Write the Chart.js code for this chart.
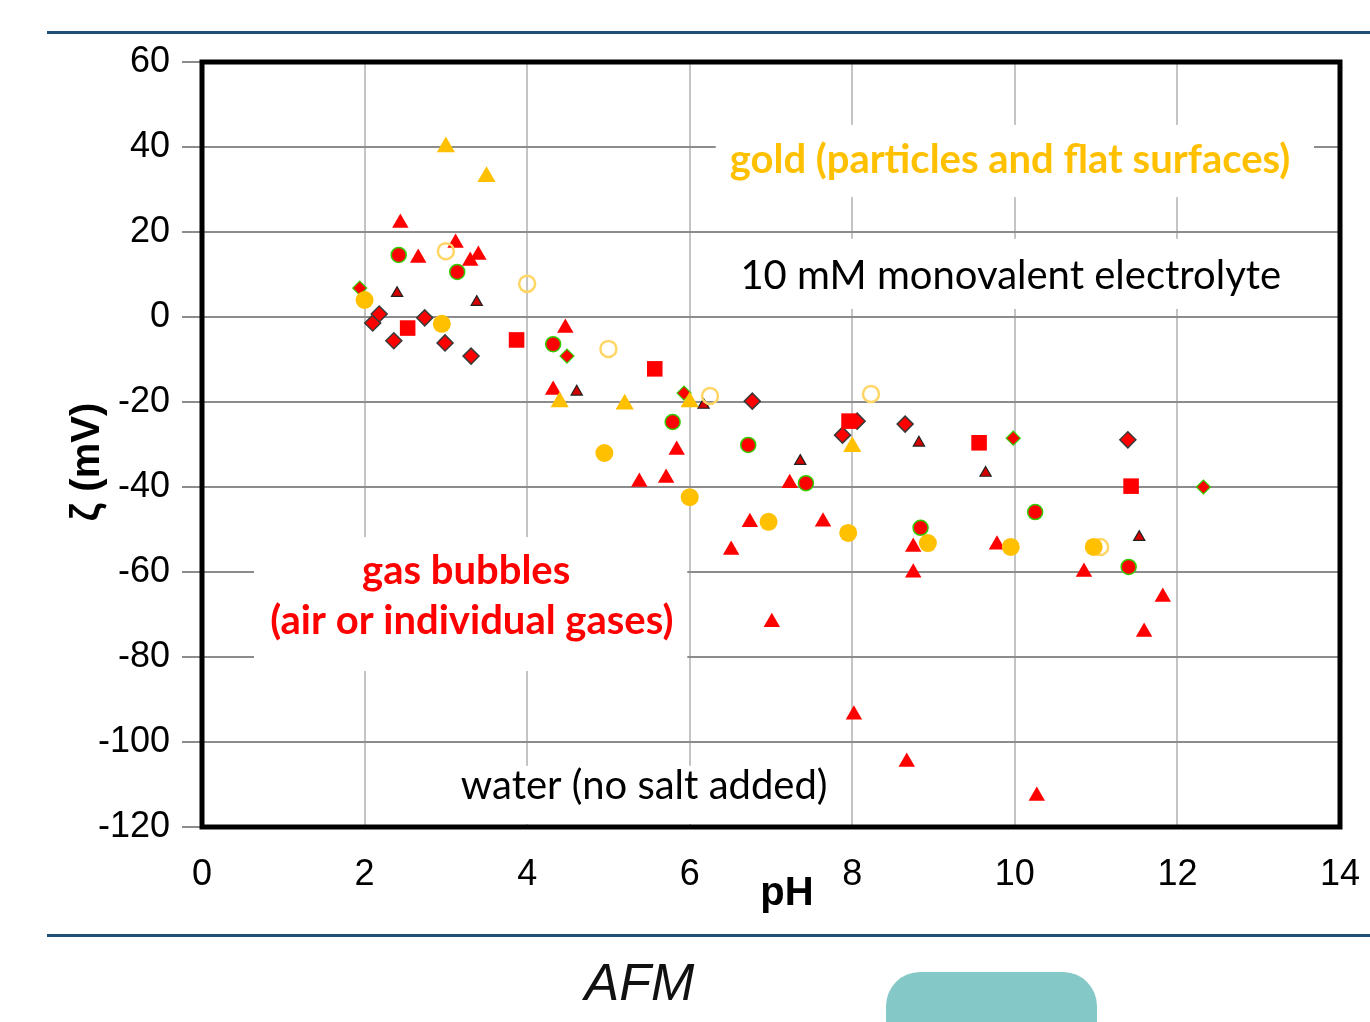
<!DOCTYPE html>
<html>
<head>
<meta charset="utf-8">
<script src="https://cdn.jsdelivr.net/npm/chart.js@4.4.1/dist/chart.umd.min.js"></script>
<style>
    html, body { margin: 0; padding: 0; background: #fff; }
    body { width: 1370px; height: 1022px; position: relative; overflow: hidden; }
    .rule { position: absolute; left: 47px; right: 0; height: 3px; background: #1f4e79; }
    #chart-box { position: absolute; left: 0; top: 0; width: 1370px; height: 930px; }
    .afm { position: absolute; left: 562px; top: 952px; width: 155px; text-align: center;
           font: italic 52px "Liberation Sans", Arial, sans-serif; color: #111; }
    .tab { position: absolute; left: 886px; top: 972px; width: 211px; height: 80px;
           background: #84c9c7; border-radius: 34px 34px 0 0; }
</style>
</head>
<body>
<div class="rule" style="top: 31px;"></div>
<div id="chart-box"><canvas id="zetaChart"></canvas></div>
<div class="rule" style="top: 934px;"></div>
<div class="afm">AFM</div>
<div class="tab"></div>

<script>
// Tick labels
const phTicks = [0, 2, 4, 6, 8, 10, 12, 14];
const zetaTicks = [60, 40, 20, 0, -20, -40, -60, -80, -100, -120];

// gold, filled triangles
const goldTriPh = [3.0, 3.5, 4.4, 5.2, 6.0, 8.0];
const goldTriZeta = [40, 33, -20, -20.5, -20, -30.5];

// gold, filled circles
const goldDotPh = [2.0, 2.95, 4.95, 6.0, 6.97, 7.95, 8.93, 9.95, 10.97];
const goldDotZeta = [4, -1.6, -32, -42.4, -48.2, -50.8, -53.2, -54.1, -54.1];

// gold, open circles
const goldRingPh = [3.0, 4.0, 5.0, 6.25, 8.23, 11.05];
const goldRingZeta = [15.5, 7.8, -7.5, -18.6, -18.1, -54.1];

// bubbles, red triangles
const bubbleTriPh = [2.44, 2.66, 3.12, 3.3, 3.4, 4.47, 4.32, 5.38, 5.71, 5.84, 6.51, 6.74,
                     7.01, 7.23, 7.64, 8.02, 8.67, 8.75, 8.75, 9.78, 10.27, 10.85, 11.59, 11.82];
const bubbleTriZeta = [22.1, 13.9, 17.4, 13.2, 14.6, -2.6, -17.2, -38.8, -37.9, -31.3, -54.8, -48.3,
                       -71.8, -39.1, -48.2, -93.6, -104.7, -54.1, -60.2, -53.6, -112.7, -60, -74.1, -65.9];

// bubbles, red squares
const bubbleSqPh = [2.53, 3.87, 5.57, 7.96, 9.56, 11.43];
const bubbleSqZeta = [-2.6, -5.4, -12.2, -24.5, -29.6, -39.8];

// bubbles, red circles (green edge)
const bubbleDotPh = [2.42, 3.14, 4.32, 5.79, 6.72, 7.43, 8.84, 10.25, 11.4];
const bubbleDotZeta = [14.6, 10.6, -6.4, -24.7, -30.1, -39.1, -49.6, -45.9, -58.8];

// bubbles, red diamonds (dark edge)
const bubbleDiaPh = [2.1, 2.18, 2.36, 2.74, 2.99, 3.31, 6.77, 7.88, 8.06, 8.65, 11.39];
const bubbleDiaZeta = [-1.4, 0.7, -5.6, -0.2, -6.1, -9.2, -19.8, -27.8, -24.5, -25.2, -28.9];

// bubbles, red diamonds (green edge)
const bubbleDiaGPh = [1.94, 4.49, 5.93, 9.98, 12.32];
const bubbleDiaGZeta = [6.8, -9.2, -17.9, -28.5, -40];

// bubbles, small dark triangles
const bubbleSmallPh = [2.4, 3.38, 4.61, 6.17, 7.36, 8.82, 9.64, 11.53];
const bubbleSmallZeta = [5.6, 3.5, -17.6, -20.7, -33.9, -29.6, -36.7, -51.8];

const pairs = (xs, ys) => xs.map((x, i) => ({ x: x, y: ys[i] }));

const RED = '#ff0000';
const GOLD = '#ffc000';
const GREEN = '#33cc00';

const TEXT_FONT = '"Lato", "Carlito", "Open Sans", sans-serif';
const AXIS_FONT = '"Liberation Sans", Arial, sans-serif';

// white boxes behind the notes: [phFrom, phTo, zetaTop, zetaBottom]
const noteBoxes = [
    [6.32, 13.68, 45.2, 28.2],
    [6.5, 13.5, 18.4, 1.9],
    [0.64, 5.97, -51.8, -83.3],
    [3.05, 7.85, -105.6, -119.3]
];

// notes: [text, ph, zeta, color, weight]
const notes = [
    ['gold (particles and flat surfaces)', 9.94, 36.9, GOLD, 'bold'],
    ['10 mM monovalent electrolyte', 9.95, 9.6, '#000', 'normal'],
    ['gas bubbles', 3.25, -59.8, RED, 'bold'],
    ['(air or individual gases)', 3.32, -71.5, RED, 'bold'],
    ['water (no salt added)', 5.44, -110.4, '#000', 'normal']
];

const notesPlugin = {
    id: 'notes',
    beforeDatasetsDraw(chart) {
        const { ctx, scales: { x, y } } = chart;
        ctx.save();
        ctx.fillStyle = '#fff';
        noteBoxes.forEach(b => {
            const x0 = x.getPixelForValue(b[0]), x1 = x.getPixelForValue(b[1]);
            const y0 = y.getPixelForValue(b[2]), y1 = y.getPixelForValue(b[3]);
            ctx.fillRect(x0, y0, x1 - x0, y1 - y0);
        });
        ctx.textAlign = 'center';
        ctx.textBaseline = 'middle';
        notes.forEach(n => {
            ctx.font = `${n[4]} 40px ${TEXT_FONT}`;
            ctx.fillStyle = n[3];
            ctx.fillText(n[0], x.getPixelForValue(n[1]), y.getPixelForValue(n[2]));
        });
        ctx.restore();
    },
    afterDraw(chart) {
        const { ctx, chartArea: a } = chart;
        ctx.save();
        // frame
        ctx.strokeStyle = '#000';
        ctx.lineWidth = 5;
        ctx.strokeRect(a.left, a.top, a.right - a.left, a.bottom - a.top);
        // axis titles
        ctx.fillStyle = '#000';
        ctx.font = `bold 40px ${AXIS_FONT}`;
        ctx.textAlign = 'center';
        ctx.textBaseline = 'middle';
        ctx.fillText('pH', 787, 894);
        ctx.translate(88, 462);
        ctx.rotate(-Math.PI / 2);
        ctx.fillText('ζ (mV)', 0, 0);
        ctx.restore();
    }
};

const series = (label, xs, ys, opts) => Object.assign({
    label: label,
    data: pairs(xs, ys),
    showLine: false
}, opts);

document.addEventListener('DOMContentLoaded', () => {
    const ctx = document.getElementById('zetaChart');

    new Chart(ctx, {
        type: 'scatter',
        data: {
            datasets: [
                series('gold triangles', goldTriPh, goldTriZeta,
                    { pointStyle: 'triangle', pointRadius: 10.5, backgroundColor: GOLD, borderColor: GOLD, pointBorderWidth: 0 }),
                series('gold circles', goldDotPh, goldDotZeta,
                    { pointStyle: 'circle', pointRadius: 9, backgroundColor: GOLD, borderColor: GOLD, pointBorderWidth: 0 }),
                series('gold open circles', goldRingPh, goldRingZeta,
                    { pointStyle: 'circle', pointRadius: 8, backgroundColor: 'rgba(255,255,255,0)', borderColor: '#ffd666', pointBorderWidth: 2.5 }),
                series('bubbles triangles', bubbleTriPh, bubbleTriZeta,
                    { pointStyle: 'triangle', pointRadius: 9.5, backgroundColor: RED, borderColor: RED, pointBorderWidth: 0 }),
                series('bubbles squares', bubbleSqPh, bubbleSqZeta,
                    { pointStyle: 'rect', pointRadius: 11, backgroundColor: RED, borderColor: RED, pointBorderWidth: 0 }),
                series('bubbles circles', bubbleDotPh, bubbleDotZeta,
                    { pointStyle: 'circle', pointRadius: 7.5, backgroundColor: RED, borderColor: GREEN, pointBorderWidth: 1.5 }),
                series('bubbles diamonds', bubbleDiaPh, bubbleDiaZeta,
                    { pointStyle: 'rectRot', pointRadius: 8, backgroundColor: RED, borderColor: '#3a3a3a', pointBorderWidth: 1.5 }),
                series('bubbles diamonds green', bubbleDiaGPh, bubbleDiaGZeta,
                    { pointStyle: 'rectRot', pointRadius: 7, backgroundColor: RED, borderColor: GREEN, pointBorderWidth: 1.2 }),
                series('bubbles small triangles', bubbleSmallPh, bubbleSmallZeta,
                    { pointStyle: 'triangle', pointRadius: 6.5, backgroundColor: '#d40000', borderColor: '#222', pointBorderWidth: 1.2 })
            ]
        },
        options: {
            responsive: true,
            maintainAspectRatio: false,
            animation: false,
            layout: { padding: { top: 62, right: 30, left: 0, bottom: 0 } },
            plugins: {
                legend: { display: false },
                tooltip: { enabled: false }
            },
            scales: {
                x: {
                    type: 'linear',
                    min: 0,
                    max: 14,
                    afterBuildTicks: (scale) => { scale.ticks = phTicks.map(v => ({ value: v })); },
                    afterFit: (scale) => {
                        scale.height = 103;
                        scale.paddingLeft = 0;
                        scale.paddingRight = 0;
                    },
                    border: { display: false },
                    grid: { color: '#c4c4c4', lineWidth: 2, drawTicks: false },
                    ticks: {
                        color: '#000',
                        padding: 26,
                        maxRotation: 0,
                        font: { family: AXIS_FONT, size: 36 }
                    }
                },
                y: {
                    type: 'linear',
                    min: -120,
                    max: 60,
                    afterBuildTicks: (scale) => { scale.ticks = zetaTicks.map(v => ({ value: v })); },
                    afterFit: (scale) => {
                        scale.width = 202;
                        scale.paddingTop = 0;
                        scale.paddingBottom = 0;
                    },
                    border: { display: false },
                    grid: { color: '#8c8c8c', lineWidth: 2, tickLength: 20, tickColor: '#8c8c8c' },
                    ticks: {
                        color: '#000',
                        padding: 12,
                        font: { family: AXIS_FONT, size: 36 }
                    }
                }
            }
        },
        plugins: [notesPlugin]
    });
});
</script>
</body>
</html>
